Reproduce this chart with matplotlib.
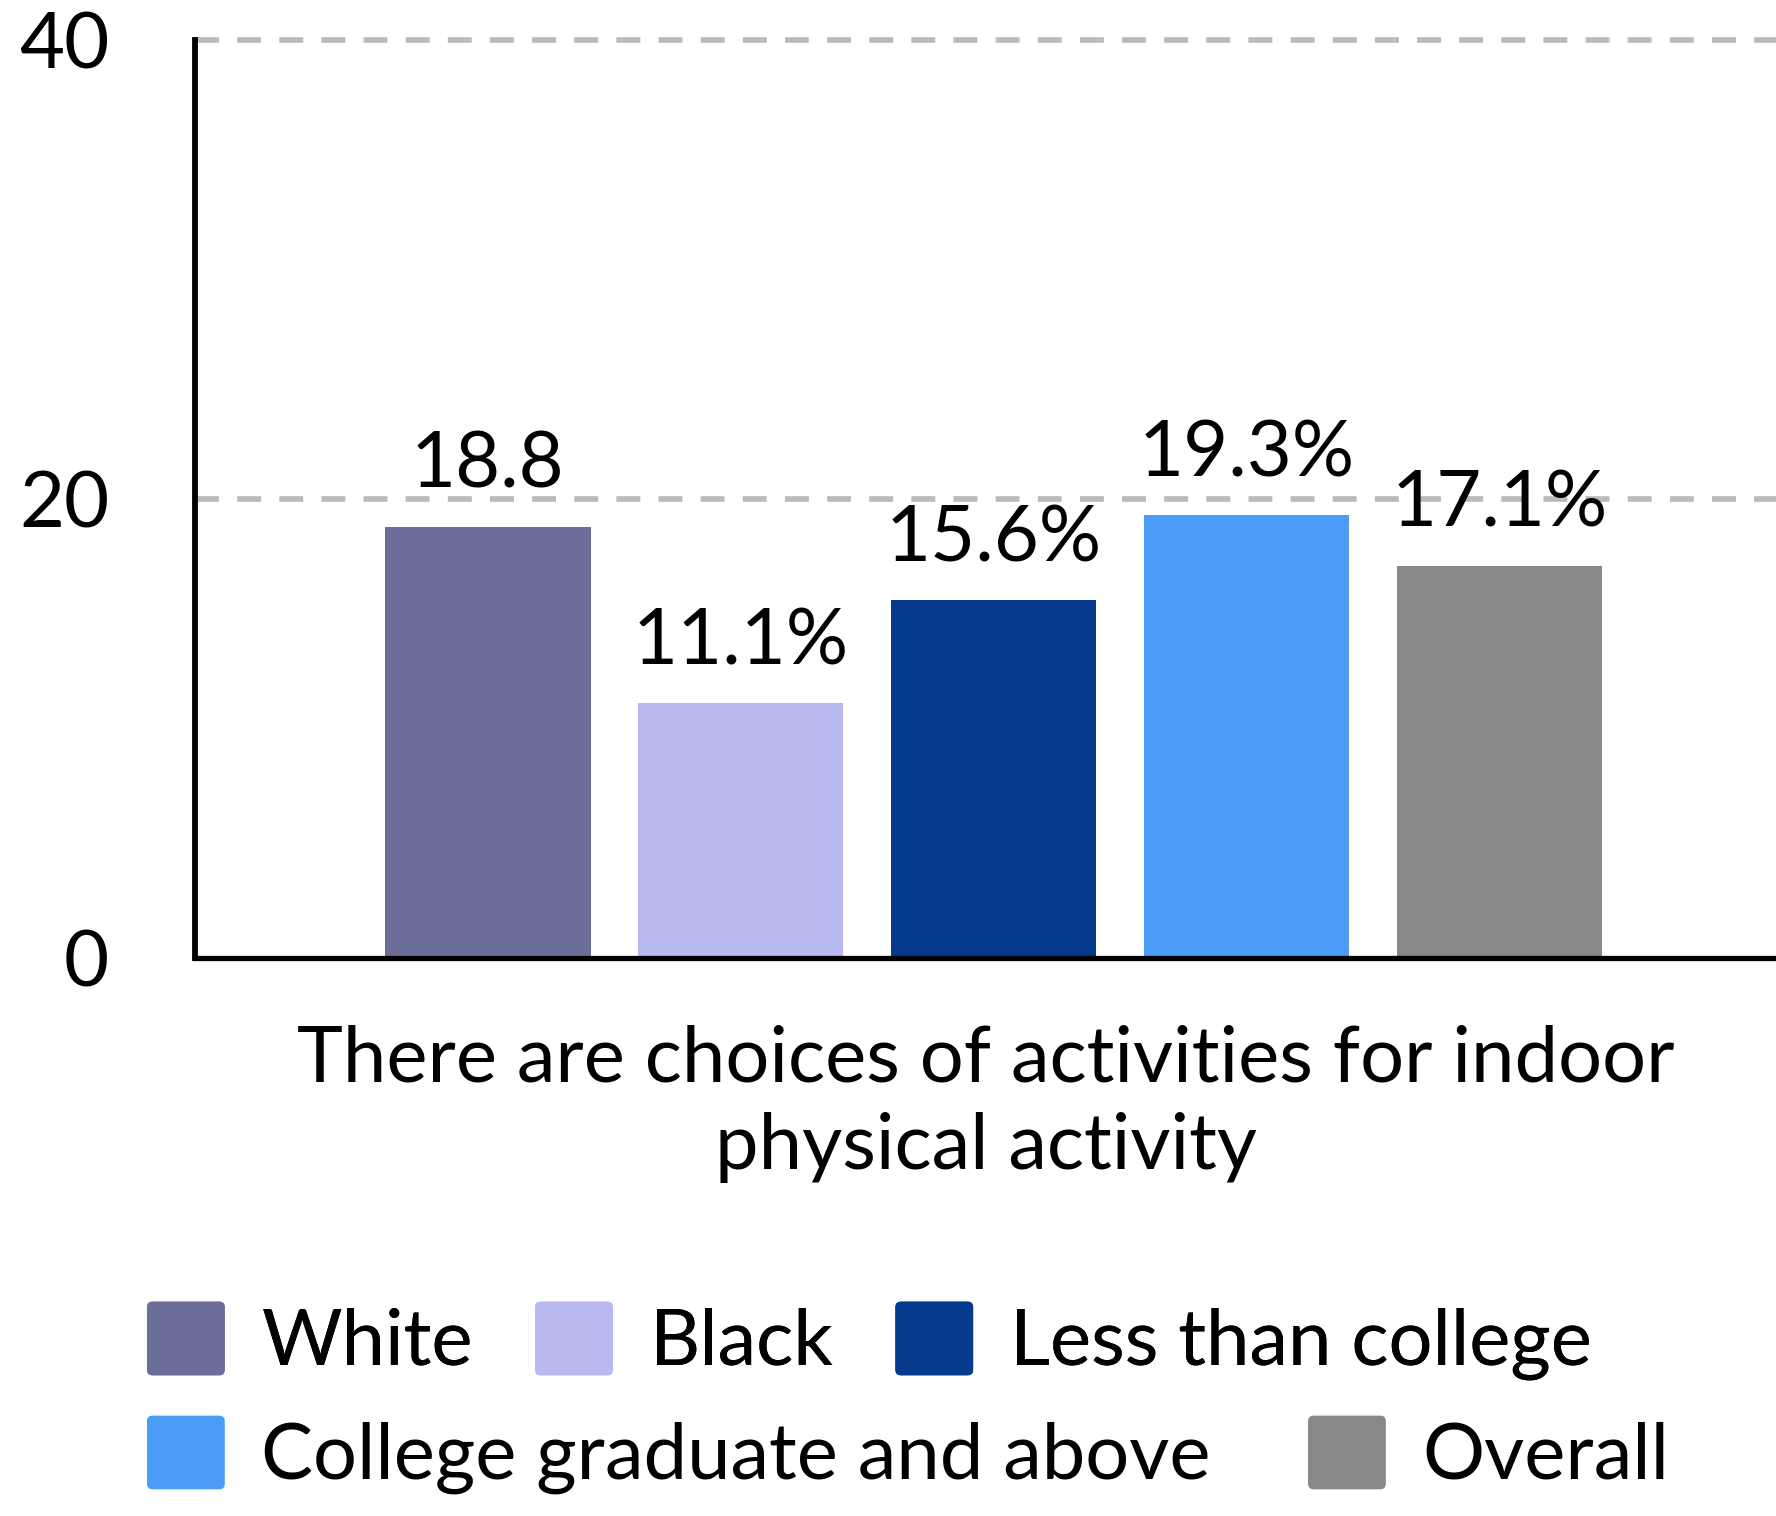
import matplotlib.pyplot as plt
from matplotlib.legend_handler import HandlerPatch
from matplotlib.patches import FancyBboxPatch, Patch

groups = ["White", "Black", "Less than college", "College graduate and above", "Overall"]
values = [18.8, 11.1, 15.6, 19.3, 17.1]
value_labels = ["18.8", "11.1%", "15.6%", "19.3%", "17.1%"]
colors = ["#6a6e98", "#b9b9f2", "#04398c", "#4a9cf6", "#888888"]
category = "There are choices of activities for indoor\nphysical activity"
y_ticks = [0, 20, 40]

FS = 56

plt.rcParams.update({
    "font.family": ["Lato", "DejaVu Sans"],
    "font.size": FS,
})


def rounded_swatch(legend, orig_handle, xdescent, ydescent, width, height, fontsize):
    return FancyBboxPatch((-xdescent, -ydescent), width, height,
                          boxstyle="round,pad=0,rounding_size=4")


fig = plt.figure(figsize=(17.76, 15.16), dpi=100)
ax = fig.add_axes([0.110, 0.368, 0.890, 0.6056])

step, width, shift = 0.16, 0.13, 0.005
for i, (val, lab, col) in enumerate(zip(values, value_labels, colors)):
    x = (i - 2) * step + shift
    ax.bar(x, val, width=width, color=col, zorder=2)
    ax.annotate(lab, (x, val), xytext=(0, 28), textcoords="offset points",
                ha="center", va="baseline", fontsize=FS, zorder=3)

ax.set_xlim(-0.5, 0.5)
ax.set_ylim(0, 40)
ax.set_yticks(y_ticks)
ax.set_xticks([0])
ax.set_xticklabels([category], linespacing=1.28)
ax.tick_params(axis="x", length=0, pad=48)
ax.tick_params(axis="y", length=0, pad=62)

# dashed reference lines at 20 and 40
for y in y_ticks[1:]:
    ax.axhline(y, color="#bbbbbb", lw=4.1, linestyle=(0, (4.2, 3.2)), zorder=1, clip_on=False)

for side in ("top", "right"):
    ax.spines[side].set_visible(False)
ax.spines["left"].set_linewidth(4.2)
ax.spines["bottom"].set_linewidth(3.8)

handles = [Patch(facecolor=c) for c in colors]
legend_kw = dict(frameon=False, fontsize=FS, handlelength=1.0, handleheight=1.08,
                 handletextpad=0.47, borderpad=0, borderaxespad=0,
                 loc="center left",
                 handler_map={Patch: HandlerPatch(patch_func=rounded_swatch)})
leg1 = fig.legend(handles[:3], groups[:3], ncol=3, columnspacing=0.8,
                  bbox_to_anchor=(147 / 1776, 1 - 1341 / 1516), **legend_kw)
fig.add_artist(leg1)
fig.legend(handles[3:], groups[3:], ncol=2, columnspacing=1.25,
           bbox_to_anchor=(147 / 1776, 1 - 1455 / 1516), **legend_kw)

fig.savefig("out.png", dpi=100)
